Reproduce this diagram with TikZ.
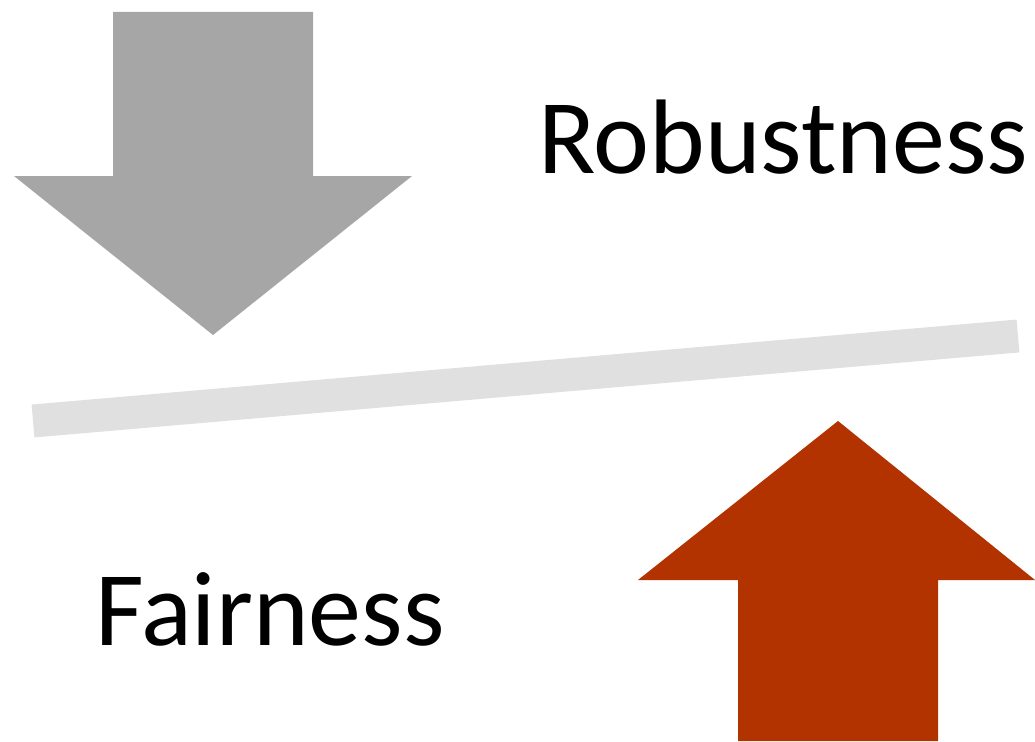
\documentclass[tikz,border=0pt]{standalone}
\usepackage{fontspec}
\setmainfont{Carlito}
\definecolor{downgray}{HTML}{A6A6A6}
\definecolor{beamgray}{HTML}{E0E0E0}
\definecolor{uprust}{HTML}{B33300}
\begin{document}
\begin{tikzpicture}[x=1pt,y=-1pt,
  label text/.style={anchor=base west,inner sep=0pt,font=\fontsize{106}{112}\selectfont}]
\useasboundingbox (0,0) rectangle (1035,741);
% downward arrow
\fill[downgray] (113,12) -- (313,12) -- (313,176) -- (412,176) -- (213,335)
  -- (14,176) -- (113,176) -- cycle;
% tilted beam
\coordinate (bl) at (33,421);
\coordinate (br) at (1018,336);
\draw[beamgray,line width=33pt] (bl) -- (br);
% upward arrow
\fill[uprust] (738,741) -- (938,741) -- (938,580) -- (1035,580) -- (838,421)
  -- (638,580) -- (738,580) -- cycle;
\node[label text] (rob) at (538,173) {Robustness};
\node[label text] (fair) at (95,645) {Fairness};
\end{tikzpicture}
\end{document}
